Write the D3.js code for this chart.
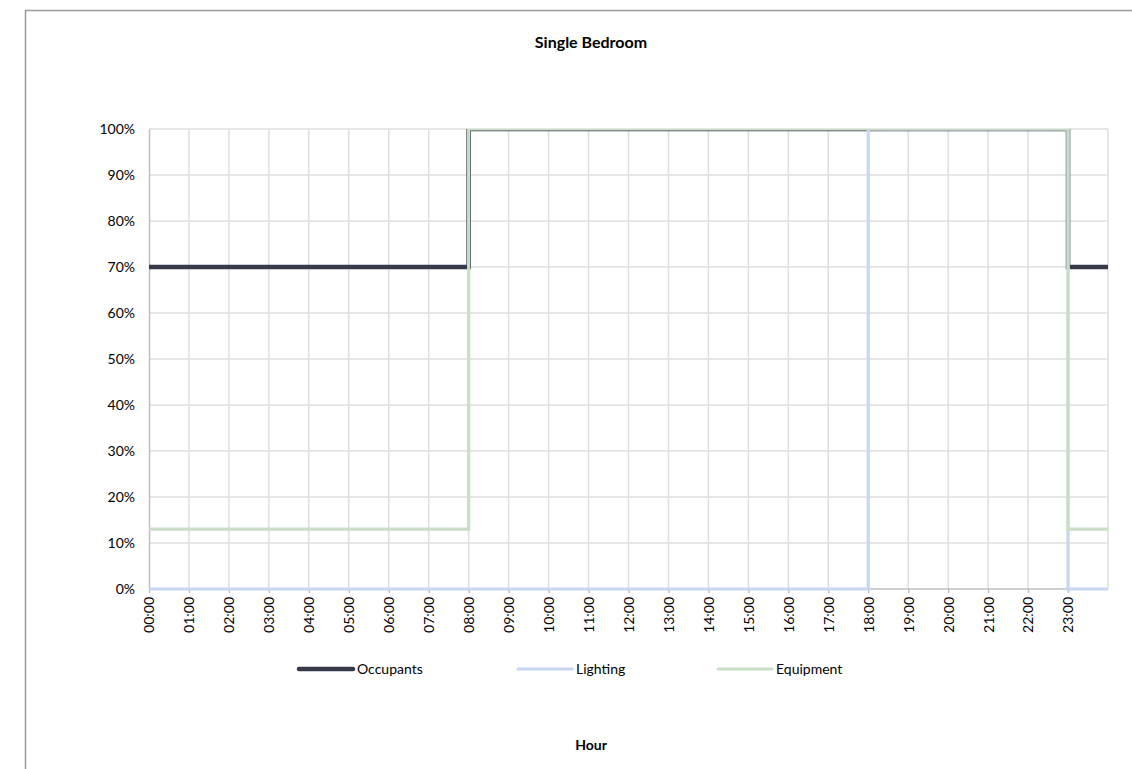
<!DOCTYPE html>
<html>
<head>
<meta charset="utf-8">
<script src="https://cdn.jsdelivr.net/npm/d3@7"></script>
<style>
  html, body { margin: 0; padding: 0; background: #fff; }
  svg { display: block; font-family: Lato, "Open Sans", sans-serif; }
</style>
</head>
<body>
<script>
// Hourly schedule for a single bedroom (fraction of peak, %)
const hours = [0, 8, 8, 18, 18, 23, 23, 24];
const occupants = [70, 70, 100, 100, 100, 100, 70, 70];
const lighting = [0, 0, 0, 0, 100, 100, 0, 0];
const equipment = [13, 13, 100, 100, 100, 100, 13, 13];
const tickHours = d3.range(0, 24);
const yTicks = d3.range(0, 101, 10);

const seriesNames = ["Occupants", "Lighting", "Equipment"];
const seriesColors = ["#363a4a", "#c6d6f3", "#c8dfc6"];
const seriesWidths = [4.5, 3.2, 3.2];
const seriesValues = [occupants, lighting, equipment];

const W = 1132, H = 769;
const margin = { left: 149, right: W - 1108, top: 129, bottom: H - 589 };
const FONT = "Lato, 'Open Sans', sans-serif";

const svg = d3.select("body").append("svg")
  .attr("width", W).attr("height", H);

// chart frame
svg.append("path")
  .attr("d", `M25.5,${H} V10.5 H${W}`)
  .attr("fill", "none").attr("stroke", "#9a9a9a").attr("stroke-width", 1.5);

const x = d3.scaleLinear().domain([0, 24]).range([margin.left, W - margin.right]);
const y = d3.scaleLinear().domain([0, 100]).range([H - margin.bottom, margin.top]);

// title
svg.append("text")
  .attr("x", 591).attr("y", 48)
  .attr("text-anchor", "middle")
  .attr("font-size", 16).attr("font-weight", 700).attr("fill", "#000")
  .text("Single Bedroom");

// gridlines
const grid = svg.append("g");
grid.selectAll("line.h").data(yTicks.filter(d => d > 0)).join("line")
  .attr("x1", x(0)).attr("x2", x(24))
  .attr("y1", d => y(d)).attr("y2", d => y(d))
  .attr("stroke", "#dedede").attr("stroke-width", 1.5);
grid.selectAll("line.v").data(d3.range(1, 25)).join("line")
  .attr("x1", d => x(d)).attr("x2", d => x(d))
  .attr("y1", y(0)).attr("y2", y(100))
  .attr("stroke", "#dedede").attr("stroke-width", 1.5);

// axes
const yAxis = svg.append("g").attr("transform", `translate(${x(0)},0)`)
  .call(d3.axisLeft(y).tickValues(yTicks).tickSize(0).tickPadding(14)
    .tickFormat(d => d + "%"));
yAxis.select(".domain").attr("stroke", "#bfbfbf").attr("stroke-width", 1.5);
yAxis.selectAll("text").attr("font-size", 14).attr("fill", "#000")
  .attr("font-family", FONT);

const xAxis = svg.append("g").attr("transform", `translate(0,${y(0)})`)
  .call(d3.axisBottom(x).tickValues(tickHours).tickSize(4)
    .tickFormat(d => String(d).padStart(2, "0") + ":00"));
xAxis.select(".domain").attr("stroke", "#bfbfbf").attr("stroke-width", 1.5)
  .attr("d", `M${x(0)},0H${x(24)}`);
xAxis.selectAll(".tick line").attr("stroke", "#bfbfbf").attr("stroke-width", 1.5);
xAxis.selectAll("text")
  .attr("font-size", 14).attr("fill", "#000")
  .attr("font-family", FONT)
  .attr("transform", "rotate(-90)")
  .attr("text-anchor", "end")
  .attr("x", -8).attr("y", 0).attr("dy", "0.35em");

// series lines, clipped at the top of the plot area
svg.append("clipPath").attr("id", "plotClip")
  .append("rect").attr("x", 0).attr("y", y(100)).attr("width", W).attr("height", H);

const line = d3.line().x((d, i) => x(hours[i])).y(d => y(d));
const lines = svg.append("g").attr("clip-path", "url(#plotClip)");
seriesValues.forEach((vals, k) => {
  lines.append("path")
    .attr("d", line(vals))
    .attr("fill", "none")
    .attr("stroke", seriesColors[k])
    .attr("stroke-width", seriesWidths[k])
    .attr("stroke-linejoin", "miter")
    .attr("stroke-linecap", "butt");
});

// legend
const legendX = [299, 518, 718];
const legendY = 669;
const legend = svg.append("g");
seriesNames.forEach((name, k) => {
  legend.append("line")
    .attr("x1", legendX[k]).attr("x2", legendX[k] + 54)
    .attr("y1", legendY).attr("y2", legendY)
    .attr("stroke", seriesColors[k]).attr("stroke-width", seriesWidths[k])
    .attr("stroke-linecap", "round");
  legend.append("text")
    .attr("x", legendX[k] + 58).attr("y", legendY).attr("dy", "0.35em")
    .attr("font-size", 14).attr("fill", "#000")
    .text(name);
});

// axis title
svg.append("text")
  .attr("x", 591).attr("y", 750)
  .attr("text-anchor", "middle")
  .attr("font-size", 14).attr("font-weight", 700).attr("fill", "#000")
  .text("Hour");
</script>
</body>
</html>
